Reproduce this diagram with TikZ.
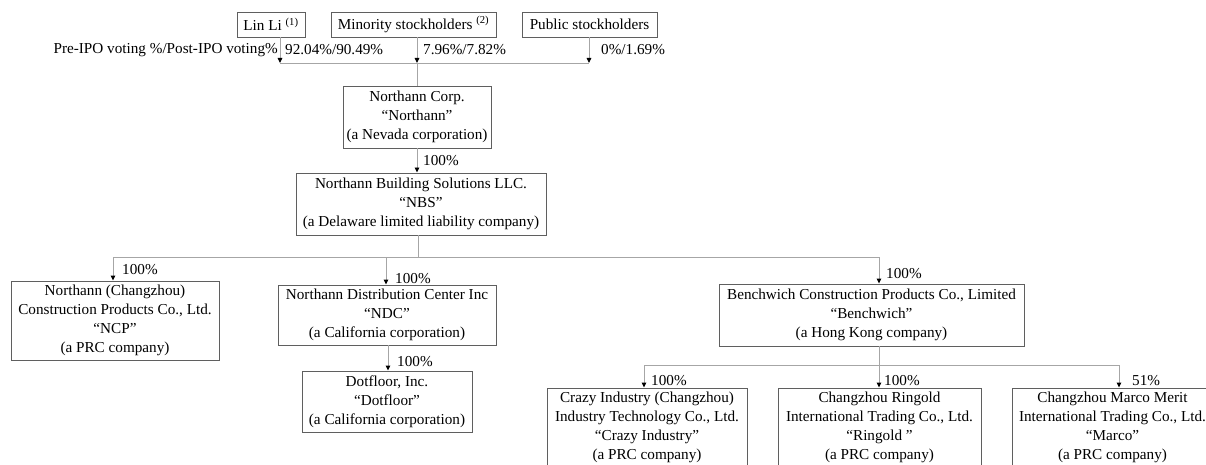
\documentclass[tikz,border=0pt]{standalone}
\usepackage{fontspec}
\setmainfont{Liberation Serif}
\usetikzlibrary{arrows.meta}

\definecolor{boxgray}{HTML}{5F5F5F}
\definecolor{wiregray}{HTML}{A6A6A6}

\tikzset{
  entity/.style={draw=boxgray, line width=0.9pt, align=center, inner sep=2pt,
    font=\fontsize{15.2}{19}\selectfont},
  pct/.style={font=\fontsize{15.2}{19}\selectfont, inner sep=0pt, anchor=west},
  wire/.style={draw=wiregray, line width=0.9pt},
  feed/.style={wire, -{Triangle[length=5pt,width=4.5pt,black]}},
}

\begin{document}
\begin{tikzpicture}[x=1pt,y=-1pt]
\useasboundingbox (0,0) rectangle (1206,465);
\clip (0,0) rectangle (1206,465);

% stockholders
\node[entity, minimum width=68pt, minimum height=25pt] (lin) at (271,24.5) {Lin Li \textsuperscript{(1)}};
\node[entity, minimum width=165pt, minimum height=25pt] (minority) at (413.5,24.5) {Minority stockholders \textsuperscript{(2)}};
\node[entity, minimum width=135pt, minimum height=25pt] (public) at (589.5,24.5) {Public stockholders};

\coordinate (linout) at (280,63);
\coordinate (topmid) at (417,63);
\coordinate (pubout) at (589,63);
\draw[feed] (linout |- lin.south) -- (linout);
\draw[feed] (topmid |- minority.south) -- (topmid);
\draw[feed] (pubout |- public.south) -- (pubout);
\draw[wire] (linout) -- (pubout);

\node[pct, anchor=east] (votehead) at (278,50) {Pre-IPO voting \%/Post-IPO voting\%};
\node[pct] (linpct) at (285,50) {92.04\%/90.49\%};
\node[pct] (minpct) at (423,50) {7.96\%/7.82\%};
\node[pct] (pubpct) at (601,50) {0\%/1.69\%};

% parent and holding company
\node[entity, minimum width=148pt, minimum height=62pt] (northann) at (417,117)
  {Northann Corp.\\“Northann”\\(a Nevada corporation)};
\draw[wire] (topmid) -- (topmid |- northann.north);

\node[entity, minimum width=250pt, minimum height=62pt] (nbs) at (421,204)
  {Northann Building Solutions LLC.\\“NBS”\\(a Delaware limited liability company)};
\draw[feed] (northann.south) -- (northann.south |- nbs.north);
\node[pct] (nbspct) at (423,161) {100\%};

% second level
\node[entity, minimum width=208pt, minimum height=79pt] (ncp) at (115,320.5)
  {Northann (Changzhou)\\Construction Products Co., Ltd.\\“NCP”\\(a PRC company)};
\node[entity, minimum width=218pt, minimum height=60pt] (ndc) at (387,315)
  {Northann Distribution Center Inc\\“NDC”\\(a California corporation)};
\node[entity, minimum width=305pt, minimum height=62pt] (bench) at (871.5,315)
  {Benchwich Construction Products Co., Limited\\“Benchwich”\\(a Hong Kong company)};

\coordinate (midbus) at (418,257);
\coordinate (ncpin) at (113,257);
\coordinate (ndcin) at (386,257);
\coordinate (benchin) at (879,257);
\draw[wire] (midbus |- nbs.south) -- (midbus);
\draw[wire] (ncpin) -- (benchin);
\draw[feed] (ncpin) -- (ncpin |- ncp.north);
\draw[feed] (ndcin) -- (ndcin |- ndc.north);
\draw[feed] (benchin) -- (benchin |- bench.north);
\node[pct] (ncppct) at (122,270) {100\%};
\node[pct] (ndcpct) at (395,279) {100\%};
\node[pct] (benchpct) at (886,274) {100\%};

% dotfloor
\node[entity, minimum width=170pt, minimum height=61pt] (dotfloor) at (387,401.5)
  {Dotfloor, Inc.\\“Dotfloor”\\(a California corporation)};
\coordinate (dotin) at (388,345);
\draw[feed] (dotin |- ndc.south) -- (dotin |- dotfloor.north);
\node[pct] (dotpct) at (397,362) {100\%};

% benchwich subsidiaries
\node[entity, minimum width=200pt, minimum height=79pt] (crazy) at (647,427.5)
  {Crazy Industry (Changzhou)\\Industry Technology Co., Ltd.\\“Crazy Industry”\\(a PRC company)};
\node[entity, minimum width=203pt, minimum height=79pt] (ringold) at (879.5,427.5)
  {Changzhou Ringold\\International Trading Co., Ltd.\\“Ringold ”\\(a PRC company)};
\node[entity, minimum width=201pt, minimum height=79pt] (marco) at (1112.5,427.5)
  {Changzhou Marco Merit\\International Trading Co., Ltd.\\“Marco”\\(a PRC company)};

\coordinate (lowbus) at (879,365);
\coordinate (crazyin) at (644,365);
\coordinate (marcoin) at (1119,365);
\draw[wire] (lowbus |- bench.south) -- (lowbus);
\draw[wire] (crazyin) -- (marcoin);
\draw[feed] (crazyin) -- (crazyin |- crazy.north);
\draw[feed] (lowbus) -- (lowbus |- ringold.north);
\draw[feed] (marcoin) -- (marcoin |- marco.north);
\node[pct] (crazypct) at (651,381) {100\%};
\node[pct] (ringoldpct) at (884,381) {100\%};
\node[pct] (marcopct) at (1132,381) {51\%};
\end{tikzpicture}
\end{document}
